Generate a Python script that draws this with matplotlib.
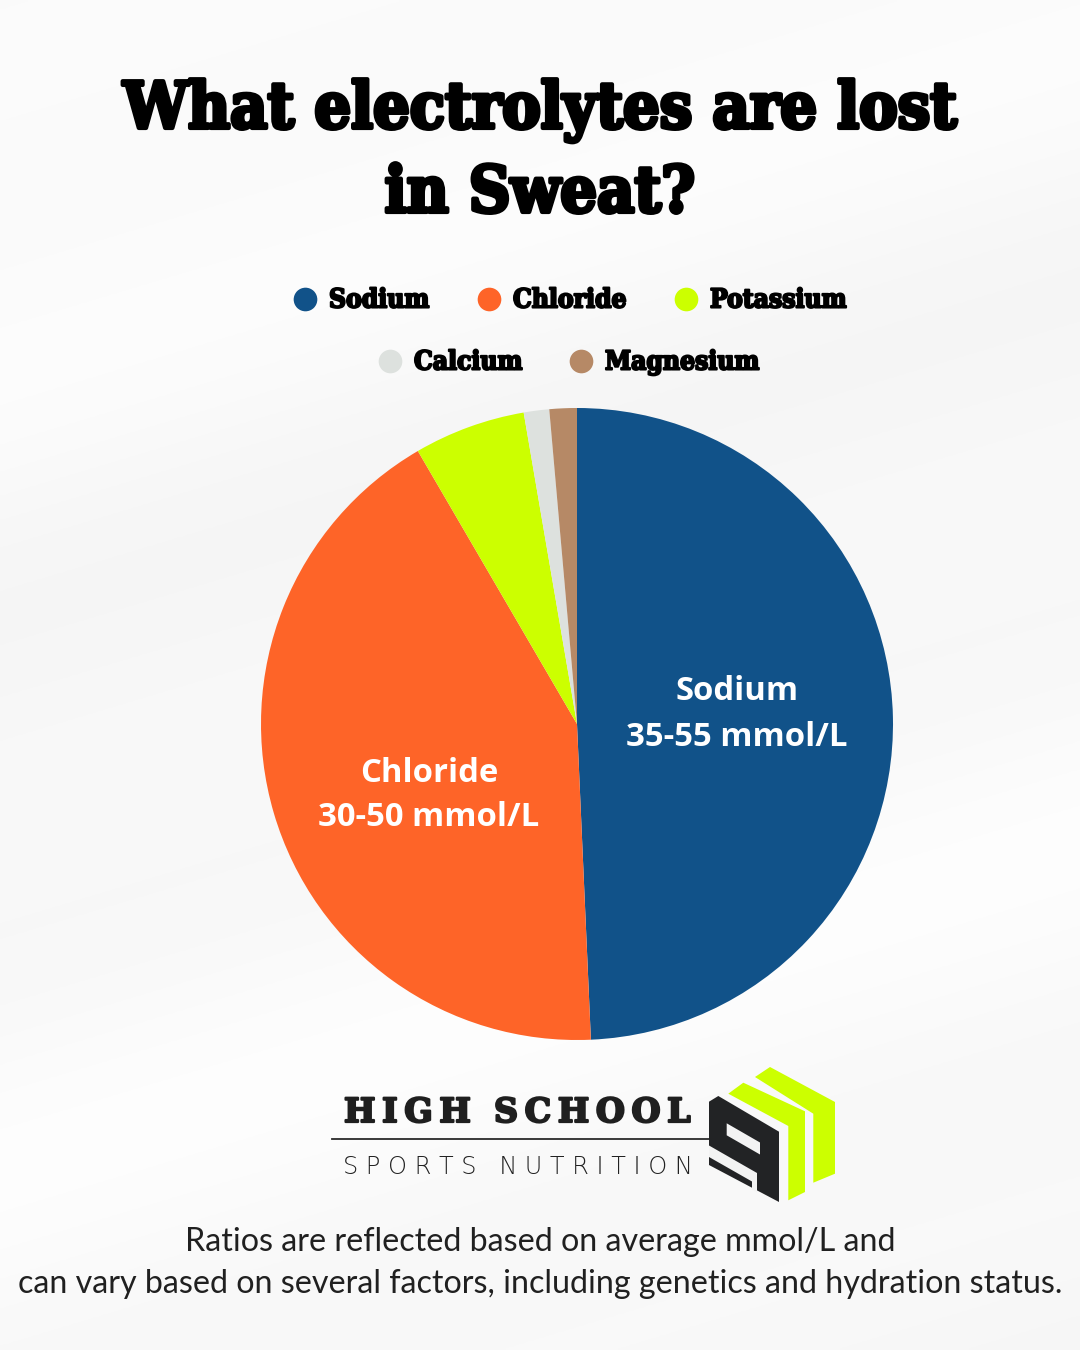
import numpy as np
import matplotlib
matplotlib.use("Agg")
import matplotlib.pyplot as plt
from matplotlib.patches import Polygon
import matplotlib.patheffects as pe

# ---------------- data ----------------
title_lines = ["What electrolytes are lost", "in Sweat?"]
categories = ["Sodium", "Chloride", "Potassium", "Calcium", "Magnesium"]
share_pct = [49.3, 42.3, 5.7, 1.3, 1.4]
colors = ["#115289", "#FE6428", "#CCFF00", "#DDE1DE", "#B68966"]
slice_ranges = ["35-55 mmol/L", "30-50 mmol/L", "", "", ""]
footnote = ["Ratios are reflected based on average mmol/L and",
            "can vary based on several factors, including genetics and hydration status."]
brand_top = "HIGH SCHOOL"
brand_bottom = "SPORTS NUTRITION"

W, H = 1080, 1350
fig = plt.figure(figsize=(10.8, 13.5), dpi=100)
renderer = fig.canvas.get_renderer()

bg = fig.add_axes([0, 0, 1, 1])
bg.set_xlim(0, W)
bg.set_ylim(H, 0)
bg.axis("off")

# soft streaked background
yy, xx = np.mgrid[0:H:3, 0:W:3]
t = yy + 0.3 * xx
field = 0.974 + 0.010 * np.sin(t / 150.0) + 0.006 * np.sin(t / 61.0 + 1.3)
field = np.clip(field, 0, 1)
bg.imshow(field, cmap="gray", vmin=0, vmax=1, extent=[0, W, H, 0], aspect="auto", zorder=0)


def fit(txt, width_px):
    for _ in range(4):
        bb = txt.get_window_extent(renderer)
        txt.set_fontsize(txt.get_fontsize() * width_px / bb.width)


slab = dict(family="DejaVu Serif", fontweight="bold", fontstretch="condensed")
heavy = [pe.withStroke(linewidth=3.0, foreground="black")]

# ---------------- title ----------------
t1 = bg.text(540, 128, title_lines[0], ha="center", va="baseline", color="black",
             fontsize=40, path_effects=heavy, **slab)
fit(t1, 834)
t2 = bg.text(540, 212, title_lines[1], ha="center", va="baseline", color="black",
             fontsize=t1.get_fontsize(), path_effects=heavy, **slab)

# ---------------- legend ----------------
legend_rows = [[0, 1, 2], [3, 4]]
legend_x = {0: 305, 1: 489, 2: 686, 3: 390, 4: 581}
legend_y = [299, 361]
leg_stroke = [pe.withStroke(linewidth=1.5, foreground="black")]
probe = bg.text(0, -100, categories[2], fontsize=16, **slab)
fit(probe, 136)
leg_fs = probe.get_fontsize()
probe.remove()
for r, row in enumerate(legend_rows):
    for i in row:
        bg.scatter([legend_x[i]], [legend_y[r]], s=290, color=colors[i], zorder=3, linewidths=0)
        bg.text(legend_x[i] + 24, legend_y[r] + 1, categories[i], ha="left", va="center",
                fontsize=leg_fs, color="black", path_effects=leg_stroke, zorder=3, **slab)

# ---------------- pie ----------------
cx, cy, R = 577, 724, 316
ax = fig.add_axes([(cx - R) / W, (H - cy - R) / H, 2 * R / W, 2 * R / H])
ax.pie(share_pct, colors=colors, startangle=90, counterclock=False,
       wedgeprops=dict(linewidth=0))
ax.set_xlim(-1, 1)
ax.set_ylim(-1, 1)
ax.axis("off")

label_pos = {0: (737, 692, 737), 1: (429, 774, 818)}
lab_font = dict(family="Open Sans", fontweight="bold", color="white")
probe = bg.text(0, -100, slice_ranges[0], fontsize=20, **lab_font)
fit(probe, 222)
lab_fs = probe.get_fontsize()
probe.remove()
for i, (x, y1, y2) in label_pos.items():
    ax.text(x, y1, categories[i], ha="center", va="center", fontsize=lab_fs,
            transform=bg.transData, **lab_font)
    ax.text(x, y2, slice_ranges[i], ha="center", va="center", fontsize=lab_fs,
            transform=bg.transData, **lab_font)

# ---------------- brand block ----------------
bt = bg.text(344, 1122, "\u2009".join(brand_top).replace("\u2009 \u2009", "  "), ha="left", va="baseline",
             color="#1f1f1f", fontsize=26, path_effects=[pe.withStroke(linewidth=1.6, foreground="#1f1f1f")],
             family="DejaVu Serif", fontweight="bold")
fit(bt, 346)
bg.plot([332, 712], [1139, 1139], color="#2a2a2a", lw=1.3, zorder=2)
bb2 = bg.text(343, 1174, " ".join(brand_bottom), ha="left", va="baseline",
              color="#222222", fontsize=18, family="DejaVu Sans", fontweight="light")
fit(bb2, 347)

dark = "#222325"
lime = "#CCFF00"
paper = "#f3f3f3"
logo_polys = [
    ([(709, 1101.7), (718.3, 1096), (779, 1131.7), (779, 1202), (709, 1165)], dark),
    ([(726.7, 1123.3), (760, 1142.5), (760, 1154.5), (726.7, 1135.3)], paper),
    ([(709, 1145.5), (757, 1173), (757, 1192.5), (752, 1189.5), (752, 1181.5), (709, 1157)], paper),
    ([(755, 1077), (770, 1067), (835, 1102), (835, 1173.7), (813.3, 1182.7), (813.3, 1113.7)], lime),
    ([(728.3, 1093.7), (743.3, 1082.7), (805, 1111.3), (805, 1192), (788.3, 1200.3), (788.3, 1126)], lime),
]
for pts, c in logo_polys:
    bg.add_patch(Polygon(pts, closed=True, facecolor=c, edgecolor="none", zorder=3))

# ---------------- footnote ----------------
f2 = bg.text(540, 1293, footnote[1], ha="center", va="baseline", color="#202020",
             fontsize=20, family="Lato", fontweight="normal")
fit(f2, 1044)
f1 = bg.text(540, 1251, footnote[0], ha="center", va="baseline", color="#202020",
             fontsize=f2.get_fontsize(), family="Lato", fontweight="normal")

fig.savefig("out.png", dpi=100)
